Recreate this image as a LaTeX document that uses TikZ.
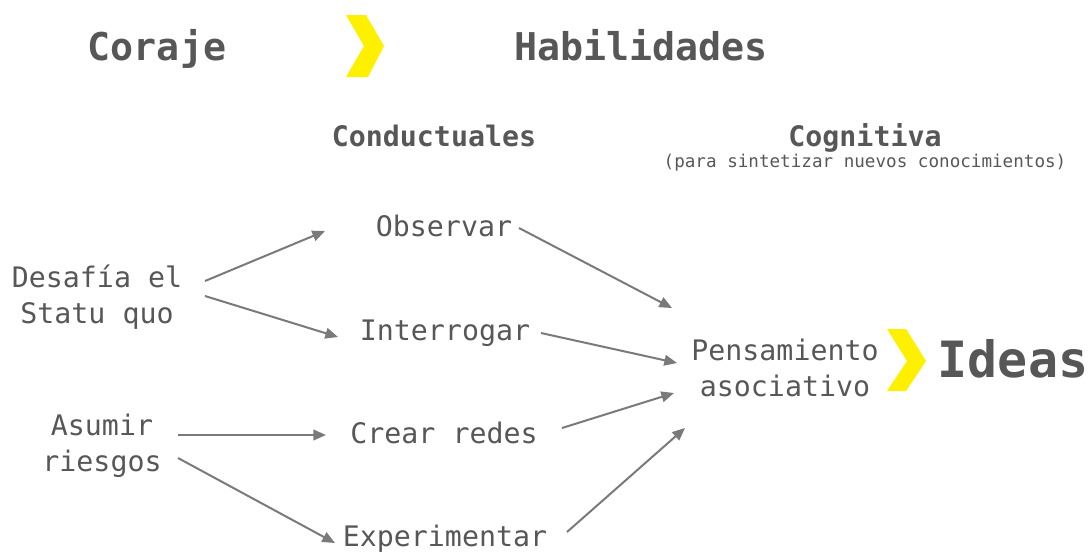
\documentclass[tikz,border=0pt]{standalone}
\usepackage{fontspec}
\setmonofont{DejaVu Sans Mono}
\usetikzlibrary{arrows.meta}
\definecolor{txtgray}{HTML}{575757}
\definecolor{arrgray}{HTML}{7A7A7A}
\definecolor{chevy}{HTML}{FFF000}
\tikzset{
  lbl/.style={anchor=base, inner sep=0pt, align=center, text=txtgray, font=\ttfamily\fontsize{21.2}{27}\selectfont},
  head/.style={anchor=base, inner sep=0pt, text=txtgray, font=\ttfamily\bfseries\fontsize{28.7}{30}\selectfont},
  subhead/.style={anchor=base, inner sep=0pt, text=txtgray, font=\ttfamily\bfseries\fontsize{21.2}{24}\selectfont},
  note/.style={anchor=base, inner sep=0pt, text=txtgray, font=\ttfamily\fontsize{13.2}{15}\selectfont},
  arr/.style={draw=arrgray, line width=1.5pt, -{Triangle[length=9.5pt,width=8pt]}},
  chev/.style={fill=chevy, draw=none}
}
\begin{document}
\begin{tikzpicture}[x=0.75pt,y=-0.75pt]
\useasboundingbox (0,0) rectangle (1092,551);
% headings
\node[head] (coraje) at (157,60) {Coraje};
\node[head] (habil) at (641,60) {Habilidades};
\node[subhead] (conduct) at (434,146) {Conductuales};
\node[subhead] (cognit) at (865,146) {Cognitiva};
\node[note] (para) at (865,167) {(para sintetizar nuevos conocimientos)};
% chevrons
\fill[chev] (346,15) -- (366,15) -- (384,46) -- (368,77) -- (346,77) -- (364,46) -- cycle;
\fill[chev] (887,329) -- (906,329) -- (926,361) -- (906,391) -- (887,391) -- (907,361) -- cycle;
% nodes (multi-line nodes: base = last line's baseline)
\node[lbl] (desafia) at (97,323) {Desafía el\\Statu quo};
\node[lbl] (asumir) at (102,471) {Asumir\\riesgos};
\node[lbl] (observar) at (444,236) {Observar};
\node[lbl] (interrogar) at (445,340) {Interrogar};
\node[lbl] (crear) at (444,443) {Crear redes};
\node[lbl] (experimentar) at (445,546) {Experimentar};
\node[lbl] (pensamiento) at (785,396) {Pensamiento\\asociativo};
\node[anchor=base, inner sep=0pt, text=txtgray, font=\ttfamily\bfseries\fontsize{37.5}{40}\selectfont] (ideas) at (1013,377) {Ideas};
% connectors
\draw[arr] ([shift={(108,-42)}]desafia.base) -- ([shift={(-119,-5)}]observar.base);
\draw[arr] ([shift={(108,-27)}]desafia.base) -- ([shift={(-107,-3)}]interrogar.base);
\draw[arr] ([shift={(76,-36)}]asumir.base) -- ([shift={(-118,-8)}]crear.base);
\draw[arr] ([shift={(76,-13)}]asumir.base) -- ([shift={(-110,-3)}]experimentar.base);
\draw[arr] ([shift={(75,-8)}]observar.base) -- ([shift={(-113,-88)}]pensamiento.base);
\draw[arr] ([shift={(96,-7)}]interrogar.base) -- ([shift={(-108,-33)}]pensamiento.base);
\draw[arr] ([shift={(118,-15)}]crear.base) -- ([shift={(-111,-3)}]pensamiento.base);
\draw[arr] ([shift={(122,-14)}]experimentar.base) -- ([shift={(-100,32)}]pensamiento.base);
\end{tikzpicture}
\end{document}
